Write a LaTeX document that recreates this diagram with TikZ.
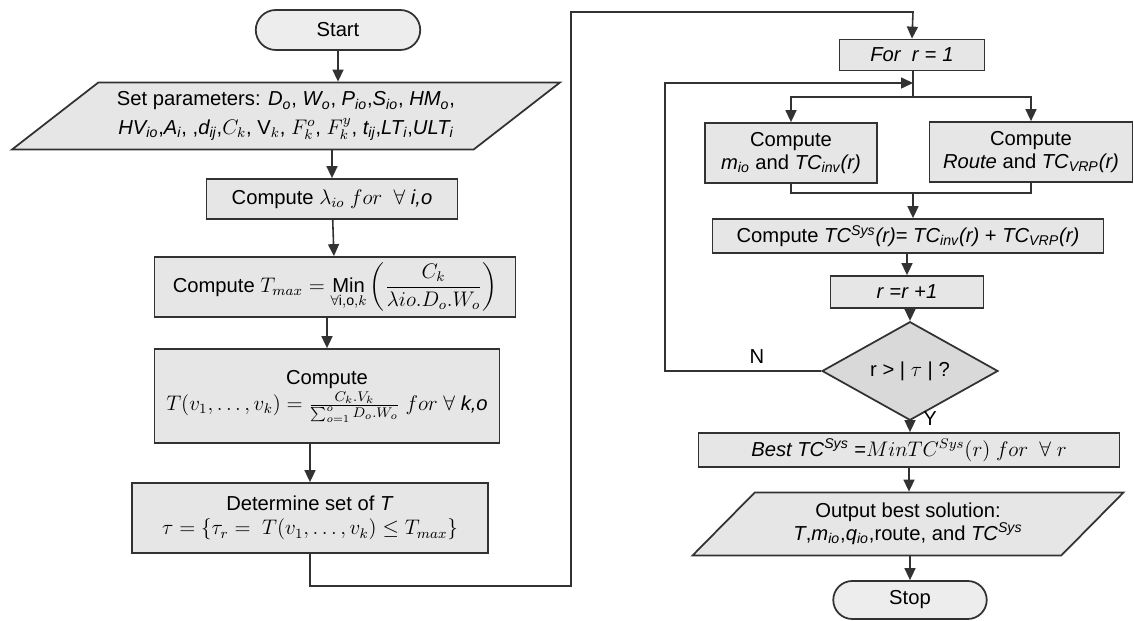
\documentclass[tikz,border=0pt]{standalone}
\usepackage{amsmath,amssymb}
\usepackage{fontspec}
\setmainfont{Liberation Sans}
\usepackage{tikz}
\usetikzlibrary{positioning,arrows.meta,shapes.geometric,shapes.misc}
\definecolor{boxFill}{RGB}{230,230,230}
\definecolor{decFill}{RGB}{217,217,217}
\definecolor{boxLine}{RGB}{50,50,50}
\newcommand{\vs}[2]{\textit{#1\textsubscript{#2}}}
\newcommand{\vp}[2]{\textit{#1\textsuperscript{#2}}}

\begin{document}
\begin{tikzpicture}[x=0.02cm,y=-0.02cm,font=\fontsize{11.5}{13}\selectfont,>={Triangle[length=2.4mm,width=2.2mm]},
  proc/.style={draw=boxLine,fill=boxFill,line width=1pt,align=center,inner sep=1pt},
  term/.style={draw=boxLine,fill=boxFill!70!white,line width=1pt,rounded rectangle,align=center,inner sep=1pt},
  io/.style={draw=boxLine,fill=boxFill,line width=1pt,trapezium,trapezium stretches body,align=center,inner sep=1pt},
  dec/.style={draw=boxLine,fill=decFill,line width=1pt,diamond,align=center,inner sep=0pt},
  fl/.style={->,line width=0.9pt,boxLine},ln/.style={line width=0.9pt,boxLine}]
\useasboundingbox (0,0) rectangle (1134,621);

% left column
\node[term,minimum width=3.36cm,minimum height=0.8cm] (start) at (338,30) {Start};
\node[io,trapezium left angle=31,trapezium right angle=149,minimum width=10.96cm,minimum height=1.34cm] (param) at (286,116)
  {Set parameters: \vs{D}{o}, \vs{W}{o}, \vs{P}{io},\vs{S}{io}, \vs{HM}{o},\\[3pt]
   \vs{HV}{io},\vs{A}{i}, ,\vs{d}{ij},$C_k$, $\mathrm{V}_k$, $F_k^o$, $F_k^y$, \vs{t}{ij},\vs{LT}{i},\vs{ULT}{i}};
\node[proc,minimum width=5.02cm,minimum height=0.8cm] (lam) at (332,199)
  {Compute $\lambda_{io}\ for\ \ \forall$ \textit{i,o}};
\node[proc,minimum width=7.22cm,minimum height=1.2cm] (tmax) at (335,287)
  {Compute $T_{max}=\underset{\forall\mathrm{i,o},k}{\mathrm{Min}}\left(\dfrac{C_k}{\lambda io.D_o.W_o}\right)$};
\node[proc,minimum width=6.9cm,minimum height=1.88cm] (tfun) at (327,396)
  {Compute\\[2pt] $T(v_1,\dots,v_k)=\frac{C_k.V_k}{\sum_{o=1}^{o}D_o.W_o}\ for\ \forall$ \textit{k,o}};
\node[proc,minimum width=7.12cm,minimum height=1.4cm] (detset) at (310,518)
  {Determine set of \textit{T}\\[1pt] $\tau=\{\tau_r=\ T(v_1,\dots,v_k)\le T_{max}\}$};

% right column
\node[proc,minimum width=2.9cm,minimum height=0.62cm] (forr) at (912,55) {\textit{For\ \ r} = \textit{1}};
\coordinate (split) at (913,97);
\node[proc,minimum width=3.44cm,minimum height=1.2cm] (minv) at (791,153)
  {Compute\\ \vs{m}{io} and \textit{TC\textsubscript{inv}(r)}};
\node[proc,minimum width=4.06cm,minimum height=1.2cm] (route) at (1031,152)
  {Compute\\ \textit{Route} and \textit{TC\textsubscript{VRP}(r)}};
\coordinate (merge) at (913,193);
\node[proc,minimum width=7.82cm,minimum height=0.68cm] (tcsys) at (908,236)
  {Compute \textit{TC\textsuperscript{Sys}(r)}= \textit{TC\textsubscript{inv}(r)} + \textit{TC\textsubscript{VRP}(r)}};
\node[proc,minimum width=3.06cm,minimum height=0.64cm] (rinc) at (907,292) {\textit{r} =\textit{r} +\textit{1}};
\node[dec,minimum width=3.52cm,minimum height=1.44cm] (check) at (910,371) {r > | $\tau$ | ?};
\node[proc,minimum width=8.42cm,minimum height=0.68cm] (best) at (909,450)
  {\textit{Best TC\textsuperscript{Sys}} =$MinTC^{Sys}(r)\ for\ \ \forall\ r$};
\node[io,trapezium left angle=36,trapezium right angle=144,minimum width=8.62cm,minimum height=1.26cm] (out) at (908,524)
  {Output best solution:\\ \textit{T},\vs{m}{io},\vs{q}{io},route, and \textit{TC\textsuperscript{Sys}}};
\node[term,minimum width=3.14cm,minimum height=0.76cm] (stop) at (910,600) {Stop};

\coordinate (loopL) at (665,371);
\coordinate (loopT) at (665,83);
\node (lN) at (757,357) {N};
\node (lY) at (930,419) {Y};

\draw[fl] (start.south) -- (start.south |- param.north);
\draw[fl] (lam.north |- param.south) -- (lam.north);
\draw[fl] (lam) -- (tmax);
\draw[fl] (tmax.south -| tfun.north) -- (tfun.north);
\draw[fl] (tfun.south -| detset.north) -- (detset.north);
\draw[fl] (detset.south) |- (571,586) |- (913,12) -- (forr.north);
\draw[ln] (forr.south -| split) -- (split);
\draw[fl] (split) -| (minv.north);
\draw[fl] (split) -| (route.north);
\draw[ln] (minv.south) |- (merge) -| (route.south);
\draw[fl] (merge) -- (merge |- tcsys.north);
\draw[fl] (tcsys.south -| rinc.north) -- (rinc.north);
\draw[fl] (rinc.south -| check.north) -- (check.north);
\draw[fl] (check.south) -- (check.south |- best.north);
\draw[fl] (best) -- (best.south |- out.north);
\draw[fl] (out.south -| stop.north) -- (stop.north);
\draw[fl] (check.west) -- (loopL) -- (loopT) -- (loopT -| split);
\end{tikzpicture}
\end{document}
